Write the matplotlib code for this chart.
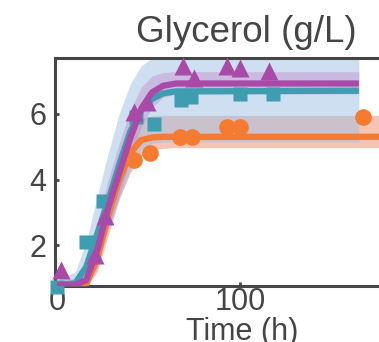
import numpy as np
import matplotlib
matplotlib.use("Agg")
import matplotlib.pyplot as plt

plt.rcParams['font.family'] = ['Liberation Sans', 'DejaVu Sans']

# fitted curves, time in h
t_fit = [0, 10, 16, 22, 28, 34, 40, 46, 52, 58, 65, 165]
purple_fit = [0.8, 0.8, 0.95, 1.85, 3.15, 4.2, 5.25, 6.15, 6.65, 6.85, 6.92, 6.92]
purple_hi = [0.95, 1.0, 1.5, 2.7, 4.0, 5.1, 6.1, 6.8, 7.15, 7.25, 7.28, 7.28]
purple_lo = [0.7, 0.7, 0.75, 1.3, 2.5, 3.5, 4.6, 5.6, 6.2, 6.5, 6.6, 6.6]

teal_fit = [0.8, 0.85, 1.35, 2.35, 3.35, 4.45, 5.45, 6.1, 6.45, 6.62, 6.68, 6.7]
teal_hi = [0.95, 1.2, 2.1, 3.5, 4.8, 6.0, 6.9, 7.45, 7.7, 7.8, 7.8, 7.8]
teal_lo = [0.7, 0.7, 0.9, 1.6, 2.5, 3.4, 4.3, 4.9, 5.1, 5.15, 5.15, 5.15]

t_fit_o = [0, 10, 16, 22, 28, 34, 40, 46, 52, 58, 65, 180]
orange_fit = [0.8, 0.8, 0.82, 1.6, 2.9, 4.0, 4.8, 5.2, 5.28, 5.3, 5.3, 5.3]
orange_hi = [0.9, 0.9, 1.1, 2.2, 3.6, 4.8, 5.5, 5.85, 5.93, 5.95, 5.95, 5.95]
orange_lo = [0.7, 0.7, 0.72, 1.2, 2.3, 3.4, 4.2, 4.7, 4.9, 4.95, 4.97, 4.97]

# measured points
t_tri = [2, 21, 26, 42, 49, 69, 75, 93, 100, 116]
y_tri = [1.25, 1.7, 2.9, 6.05, 6.35, 7.45, 7.1, 7.45, 7.4, 7.3]
t_sq = [0, 16, 25, 43, 53, 68, 73, 100, 118]
y_sq = [0.75, 2.1, 3.35, 5.9, 5.7, 6.43, 6.5, 6.6, 6.6]
t_circ = [42, 51, 67, 74, 93, 100, 167]
y_circ = [4.6, 4.8, 5.3, 5.3, 5.6, 5.6, 5.9]

c_teal = '#3f9db2'
c_purple = '#a94aa9'
c_orange = '#f47b30'
grey = '#454545'

fig = plt.figure(figsize=(3.79, 3.42), dpi=100)
ax = fig.add_axes([0.145, 0.164, 0.855, 0.666])

ax.fill_between(t_fit_o, orange_lo, orange_hi, color='#f08a6a', alpha=0.5, lw=0, zorder=1)
ax.fill_between(t_fit, teal_lo, teal_hi, color='#9cc0e4', alpha=0.5, lw=0, zorder=2)
ax.fill_between(t_fit, purple_lo, purple_hi, color='#c07ac0', alpha=0.35, lw=0, zorder=3)

ax.plot(t_circ, y_circ, 'o', color=c_orange, ms=12, mec='none', zorder=4, clip_on=False)
ax.plot(t_sq, y_sq, 's', color=c_teal, ms=10, mec='none', zorder=4, clip_on=False)
ax.plot(t_fit, teal_fit, color=c_teal, lw=4.5, zorder=5, solid_capstyle='butt')
ax.plot(t_fit_o, orange_fit, color=c_orange, lw=4.5, zorder=5, solid_capstyle='butt')
ax.plot(t_fit, purple_fit, color=c_purple, lw=4.5, zorder=6, solid_capstyle='butt')
ax.plot(t_tri, y_tri, '^', color=c_purple, ms=13, mec='none', zorder=7, clip_on=False)

ax.set_xlim(-1.1, 176)
ax.set_ylim(0.77, 7.69)
ax.set_xticks([0, 100])
ax.set_yticks([2, 4, 6])

for side in ['left', 'bottom', 'top']:
    ax.spines[side].set_color(grey)
    ax.spines[side].set_linewidth(2.2)
ax.spines['right'].set_visible(False)
ax.tick_params(direction='in', length=3, width=2, color=grey,
               labelsize=22, labelcolor=grey)
ax.tick_params(axis='x', pad=1)
ax.tick_params(axis='y', pad=6)

ax.set_xlabel('Time (h)', fontsize=22, color=grey, va='top')
ax.xaxis.set_label_coords(0.577, -0.135)

fig.text(0.65, 0.877, 'Glycerol (g/L)', fontsize=26.5, color=grey,
         ha='center', va='baseline')

fig.savefig('out.png', dpi=100)
